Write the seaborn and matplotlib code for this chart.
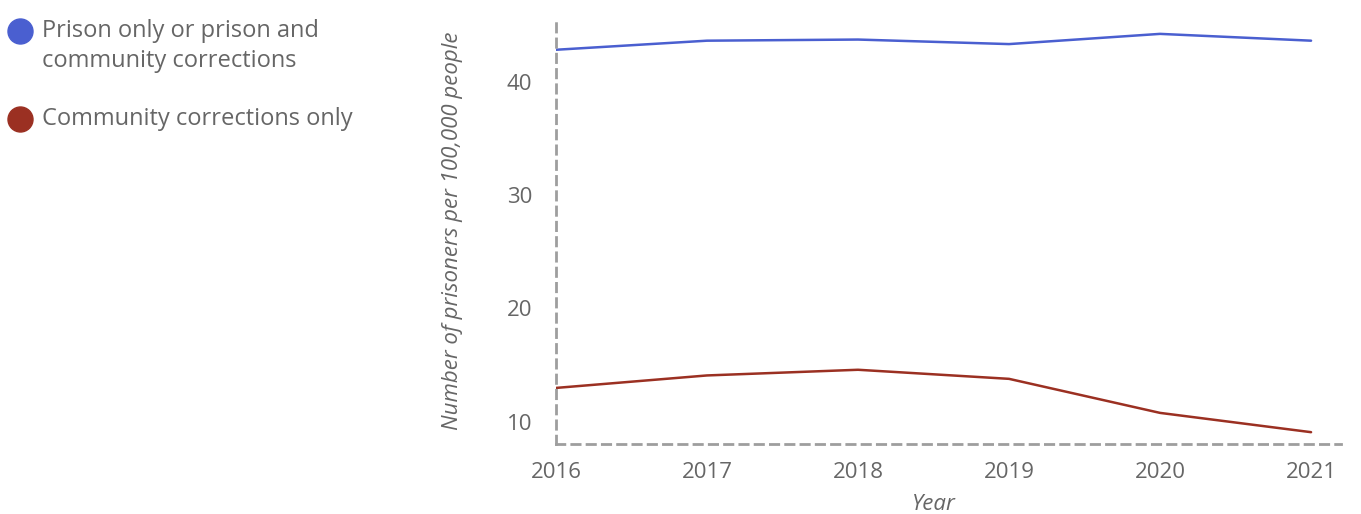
import matplotlib
matplotlib.use("Agg")
import matplotlib.pyplot as plt
from matplotlib.lines import Line2D
import seaborn as sns
import pandas as pd

years = [2016, 2017, 2018, 2019, 2020, 2021]
prison_rate = [42.8, 43.6, 43.7, 43.3, 44.2, 43.6]
community_rate = [13.0, 14.1, 14.6, 13.8, 10.8, 9.1]
series_names = ["Prison only or prison and\ncommunity corrections",
                "Community corrections only"]
y_ticks = [10, 20, 30, 40]

df = pd.DataFrame({
    "Year": years * 2,
    "Rate": prison_rate + community_rate,
    "Series": [series_names[0]] * len(years) + [series_names[1]] * len(years),
})

sns.set_theme(style="white")
plt.rcParams["font.family"] = ["Open Sans", "DejaVu Sans"]

text_grey = "#666666"
axis_grey = "#9e9e9e"
palette = {series_names[0]: "#4a5fd0", series_names[1]: "#9b3022"}

W, H = 1361, 514
fig = plt.figure(figsize=(W / 100, H / 100), dpi=100)
ax = fig.add_axes([0.4085, 0.136, 0.577, 0.829])

sns.lineplot(data=df, x="Year", y="Rate", hue="Series", palette=palette,
             linewidth=1.8, legend=False, ax=ax)

ax.set_xlim(2016, 2021.2)
ax.set_ylim(8.05, 45.6)
ax.set_xticks(years)
ax.set_xticklabels([str(y) for y in years])
ax.set_yticks(y_ticks)

for side in ("top", "right"):
    ax.spines[side].set_visible(False)
for side in ("left", "bottom"):
    ax.spines[side].set_color(axis_grey)
    ax.spines[side].set_linewidth(2)
    ax.spines[side].set_linestyle((0, (3, 2.5)))

ax.tick_params(axis="both", length=0, labelsize=16, colors=text_grey)
ax.tick_params(axis="y", pad=17)
ax.tick_params(axis="x", pad=13)

ax.set_xlabel("Year", fontsize=16, style="italic", color=text_grey)
ax.xaxis.set_label_coords((2018.5 - 2016) / 5.2, -0.118)
ax.set_ylabel("Number of prisoners per 100,000 people", fontsize=16,
              style="italic", color=text_grey)
ax.yaxis.set_label_coords(-0.118, 0.5)

# Legend: a filled circle beside each (possibly two-line) label
legend_rows = [31, 119]  # pixel rows of the first text line
for name, row in zip(series_names, legend_rows):
    yf = 1 - row / H
    fig.add_artist(Line2D([20 / W], [yf], transform=fig.transFigure,
                          linestyle="none", marker="o", markersize=18,
                          markerfacecolor=palette[name],
                          markeredgecolor=palette[name]))
    fig.text(42 / W, yf + 12 / H, name, ha="left", va="top", fontsize=17,
             color=text_grey, linespacing=1.32)

fig.savefig("out.png", dpi=100)
